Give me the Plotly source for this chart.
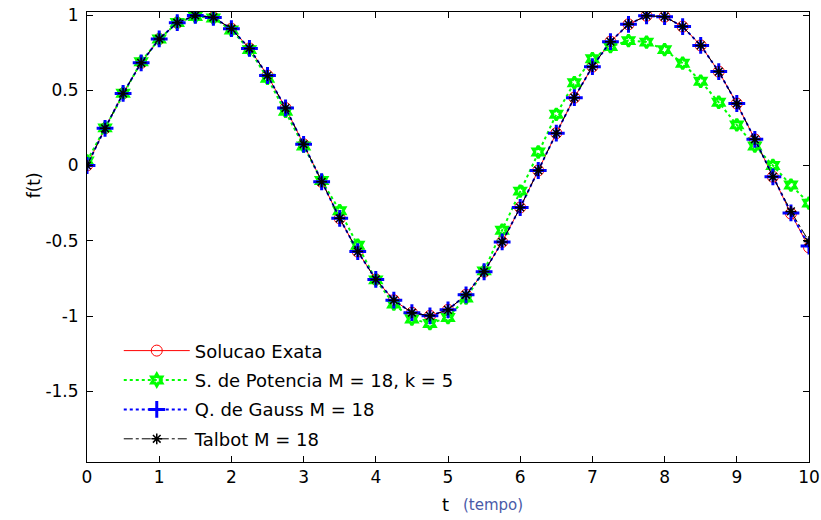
import plotly.graph_objects as go

t = [0.0, 0.25, 0.5, 0.75, 1.0, 1.25, 1.5, 1.75, 2.0, 2.25, 2.5, 2.75, 3.0, 3.25, 3.5, 3.75,
     4.0, 4.25, 4.5, 4.75, 5.0, 5.25, 5.5, 5.75, 6.0, 6.25, 6.5, 6.75, 7.0, 7.25, 7.5, 7.75,
     8.0, 8.25, 8.5, 8.75, 9.0, 9.25, 9.5, 9.75, 10.0]

exata = [0.000, 0.247, 0.479, 0.682, 0.841, 0.949, 0.997, 0.984, 0.909, 0.778, 0.598, 0.382,
         0.141, -0.108, -0.351, -0.572, -0.757, -0.895, -0.978, -0.999, -0.959, -0.859, -0.706,
         -0.508, -0.279, -0.033, 0.215, 0.451, 0.657, 0.823, 0.938, 0.995, 0.989, 0.923, 0.798,
         0.624, 0.412, 0.174, -0.075, -0.319, -0.544]

potencia = [0.03, 0.25, 0.48, 0.69, 0.84, 0.95, 0.99, 0.98, 0.90, 0.77, 0.58, 0.36,
            0.13, -0.10, -0.30, -0.53, -0.76, -0.92, -1.02, -1.05, -1.01, -0.88, -0.70,
            -0.43, -0.17, 0.09, 0.34, 0.55, 0.71, 0.79, 0.83, 0.82, 0.77, 0.68, 0.56,
            0.42, 0.27, 0.13, 0.00, -0.13, -0.25]

gauss = [0.000, 0.247, 0.479, 0.682, 0.841, 0.949, 0.997, 0.984, 0.909, 0.778, 0.598, 0.382,
         0.141, -0.108, -0.351, -0.572, -0.757, -0.895, -0.978, -0.999, -0.959, -0.859, -0.706,
         -0.508, -0.279, -0.033, 0.215, 0.451, 0.657, 0.823, 0.938, 0.995, 0.989, 0.923, 0.798,
         0.624, 0.412, 0.174, -0.075, -0.315, -0.535]

talbot = [0.000, 0.247, 0.479, 0.682, 0.841, 0.949, 0.997, 0.984, 0.909, 0.778, 0.598, 0.382,
          0.141, -0.108, -0.351, -0.572, -0.757, -0.895, -0.978, -0.999, -0.959, -0.859, -0.706,
          -0.508, -0.279, -0.033, 0.215, 0.451, 0.657, 0.823, 0.938, 0.995, 0.989, 0.923, 0.798,
          0.624, 0.412, 0.174, -0.075, -0.305, -0.505]

names = ["Solucao Exata", "S. de Potencia M = 18, k = 5", "Q. de Gauss M = 18", "Talbot M = 18"]

xticks = [0, 1, 2, 3, 4, 5, 6, 7, 8, 9, 10]
yticks = [-1.5, -1, -0.5, 0, 0.5, 1]
yticktext = ["-1.5", "-1", "-0.5", "0", "0.5", "1"]

FONT = "DejaVu Sans, Verdana, sans-serif"

fig = go.Figure()
fig.add_trace(go.Scatter(x=t, y=exata, name=names[0], mode="lines+markers", legendgroup="a",
                         line=dict(color="#ff0000", width=1),
                         marker=dict(symbol="circle-open", size=11, color="#ff0000",
                                     line=dict(width=1, color="#ff0000"))))
fig.add_trace(go.Scatter(x=t, y=potencia, name=names[1], mode="lines+markers", legendgroup="b",
                         line=dict(color="#00ff00", width=2, dash="dot"),
                         marker=dict(symbol="hexagram-open", size=9, color="#00ff00",
                                     line=dict(width=3, color="#00ff00"))))
fig.add_trace(go.Scatter(x=t, y=gauss, name=names[2], mode="lines+markers", legendgroup="c",
                         line=dict(color="#0000ff", width=2, dash="dot"),
                         marker=dict(symbol="cross-thin-open", size=12, color="#0000ff",
                                     line=dict(width=3, color="#0000ff"))))
fig.add_trace(go.Scatter(x=t, y=talbot, name=names[3], mode="lines+markers", legendgroup="d",
                         line=dict(color="#000000", width=1, dash="dashdot"),
                         marker=dict(symbol="asterisk-open", size=9, color="#000000",
                                     line=dict(width=1.5, color="#000000"))))

axis_common = dict(showline=True, linecolor="black", linewidth=1, mirror="ticks",
                   ticks="inside", ticklen=6, tickcolor="black", showgrid=False,
                   zeroline=False, automargin=False,
                   tickfont=dict(family=FONT, size=17, color="black"))

fig.update_xaxes(range=[0, 10], tickvals=xticks, ticktext=[str(v) for v in xticks],
                 **axis_common)
fig.update_yaxes(range=[-1.97, 1.02], tickvals=yticks, ticktext=yticktext,
                 ticklabelstandoff=4, **axis_common)

fig.add_annotation(text="f(t)", xref="paper", yref="paper", x=-0.09, y=0.615,
                   textangle=-90, showarrow=False,
                   font=dict(family=FONT, size=17, color="black"))
fig.add_annotation(text="t", xref="paper", yref="paper", x=(445 - 87) / 722, y=-0.095,
                   xanchor="center", yanchor="middle", showarrow=False,
                   font=dict(family=FONT, size=18, color="black"))
fig.add_annotation(text="(tempo)", xref="paper", yref="paper", x=(461 - 87) / 722, y=-0.095,
                   xanchor="left", yanchor="middle", showarrow=False,
                   font=dict(family=FONT, size=15, color="#4a5aa8"))

fig.update_layout(
    width=821, height=520,
    margin=dict(l=87, r=12, t=12, b=58),
    paper_bgcolor="white", plot_bgcolor="white",
    font=dict(family=FONT, size=17, color="black"),
    showlegend=True,
    legend=dict(x=0.044, y=0.288, xanchor="left", yanchor="top",
                bgcolor="rgba(0,0,0,0)", borderwidth=0,
                font=dict(family=FONT, size=18, color="black"),
                itemwidth=66, tracegroupgap=3),
)

fig.write_html("out.html")
